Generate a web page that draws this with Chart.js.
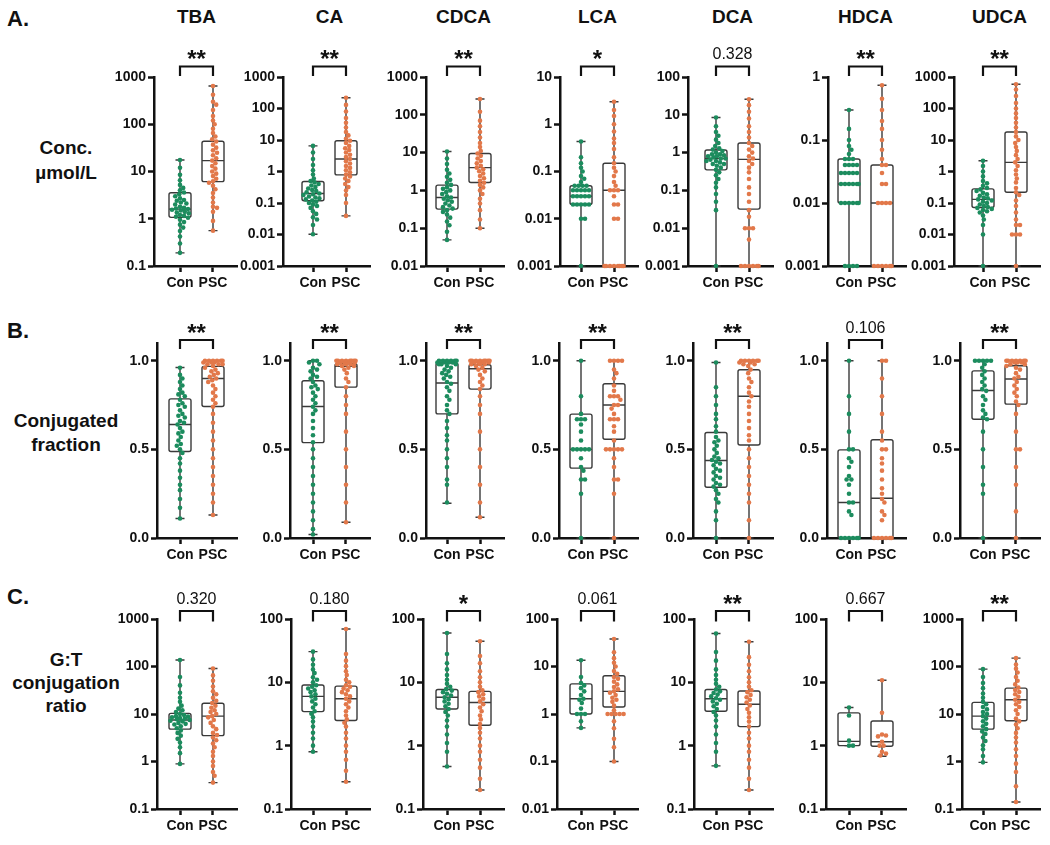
<!DOCTYPE html>
<html>
<head>
<meta charset="utf-8">
<script src="https://cdn.jsdelivr.net/npm/chart.js@4.4.0/dist/chart.umd.min.js"></script>
<style>
  body { margin: 0; background: #fff; font-family: "Liberation Sans", Arial, sans-serif; }
  #fig { position: relative; width: 1050px; height: 845px; overflow: hidden; }
  #fig canvas { position: absolute; }
  .lbl { position: absolute; font-weight: bold; color: #111; white-space: nowrap; text-align: center; }
</style>
</head>
<body>
<div id="fig"></div>
<script>
// ---- data ----
const acids = ["TBA", "CA", "CDCA", "LCA", "DCA", "HDCA", "UDCA"];
const groupLabels = ["Con", "PSC"];
const groupColors = ["#1c8c5e", "#e2784a"];

const logTickValues = [0.001, 0.01, 0.1, 1, 10, 100, 1000];
const logTickLabels = ["0.001", "0.01", "0.1", "1", "10", "100", "1000"];
const fracTickValues = [0, 0.5, 1];
const fracTickLabels = ["0.0", "0.5", "1.0"];

// A. concentration (umol/L), box = [min, q1, median, q3, max]
const concMin = [0.1, 0.001, 0.01, 0.001, 0.001, 0.001, 0.001];
const concMax = [1000, 1000, 1000, 10, 100, 1, 1000];
const concSig = ["**", "**", "**", "*", "0.328", "**", "**"];
const concConBox = [
  [0.19, 1.07, 1.6, 3.56, 17.5],
  [0.0102, 0.118, 0.2, 0.48, 6.5],
  [0.049, 0.32, 0.65, 1.38, 10.7],
  [0.001, 0.02, 0.03, 0.05, 0.43],
  [0.001, 0.35, 0.7, 1.17, 8.5],
  [0.001, 0.01, 0.02, 0.05, 0.3],
  [0.001, 0.072, 0.13, 0.28, 2.2]
];
const concPscBox = [
  [0.56, 6.1, 17, 43.6, 645],
  [0.039, 0.78, 2.5, 9.5, 220],
  [0.1, 1.62, 4, 9.5, 263],
  [0.001, 0.001, 0.04, 0.15, 3.0],
  [0.001, 0.032, 0.66, 1.8, 25.7],
  [0.001, 0.001, 0.01, 0.04, 0.74],
  [0.001, 0.22, 1.95, 18, 590]
];
const concConPts = [
  [0.19, 0.3, 0.42, 0.55, 0.65, 0.75, 0.85, 0.95, 1.05, 1.1, 1.15, 1.2, 1.3, 1.35, 1.4, 1.5, 1.55, 1.6, 1.65, 1.7, 1.8, 2.0, 2.1, 2.2, 2.4, 2.5, 2.7, 3.0, 3.3, 3.6, 4.0, 4.5, 5.2, 6.5, 8.5, 12, 17.5],
  [0.0102, 0.02, 0.03, 0.035, 0.045, 0.055, 0.07, 0.08, 0.09, 0.1, 0.11, 0.12, 0.13, 0.14, 0.15, 0.16, 0.18, 0.19, 0.2, 0.22, 0.24, 0.26, 0.29, 0.32, 0.36, 0.4, 0.45, 0.5, 0.6, 0.8, 1.1, 1.6, 2.5, 4, 6.5],
  [0.049, 0.08, 0.12, 0.15, 0.19, 0.23, 0.27, 0.3, 0.33, 0.36, 0.4, 0.45, 0.5, 0.55, 0.6, 0.65, 0.7, 0.8, 0.9, 1.0, 1.1, 1.2, 1.4, 1.6, 1.9, 2.3, 2.8, 3.5, 5, 7, 10.7],
  [0.001, 0.01, 0.01, 0.02, 0.02, 0.02, 0.02, 0.02, 0.03, 0.03, 0.03, 0.03, 0.03, 0.04, 0.04, 0.04, 0.04, 0.04, 0.05, 0.05, 0.05, 0.05, 0.06, 0.07, 0.08, 0.1, 0.12, 0.15, 0.2, 0.43],
  [0.001, 0.03, 0.05, 0.08, 0.12, 0.16, 0.2, 0.25, 0.3, 0.35, 0.4, 0.45, 0.5, 0.5, 0.55, 0.6, 0.6, 0.65, 0.7, 0.7, 0.75, 0.8, 0.8, 0.85, 0.9, 0.9, 1.0, 1.1, 1.2, 1.3, 1.5, 1.8, 2.2, 2.8, 3.5, 5, 8.5],
  [0.001, 0.001, 0.001, 0.001, 0.01, 0.01, 0.01, 0.01, 0.01, 0.01, 0.02, 0.02, 0.02, 0.02, 0.02, 0.02, 0.03, 0.03, 0.03, 0.03, 0.03, 0.04, 0.04, 0.04, 0.04, 0.05, 0.05, 0.05, 0.06, 0.07, 0.08, 0.1, 0.15, 0.3],
  [0.001, 0.01, 0.02, 0.03, 0.04, 0.05, 0.055, 0.06, 0.065, 0.07, 0.075, 0.08, 0.09, 0.1, 0.11, 0.12, 0.13, 0.14, 0.15, 0.17, 0.19, 0.21, 0.24, 0.27, 0.3, 0.35, 0.42, 0.5, 0.7, 1.0, 1.5, 2.2]
];
const concPscPts = [
  [0.56, 0.9, 1.4, 1.7, 1.8, 2.2, 2.8, 3.5, 4.2, 5.0, 5.8, 6.2, 7, 8, 9, 10, 11.5, 13, 15, 17, 19, 22, 25, 28, 32, 37, 43, 48, 55, 65, 80, 100, 120, 150, 200, 260, 300, 420, 645],
  [0.039, 0.1, 0.18, 0.25, 0.32, 0.4, 0.5, 0.6, 0.7, 0.8, 0.95, 1.1, 1.3, 1.5, 1.8, 2.1, 2.5, 2.9, 3.4, 4, 4.8, 5.5, 6.5, 8, 9.5, 11, 14, 18, 25, 35, 50, 80, 130, 220],
  [0.1, 0.17, 0.3, 0.45, 0.6, 0.8, 1.0, 1.2, 1.4, 1.6, 1.8, 2.1, 2.4, 2.8, 3.2, 3.6, 4, 4.5, 5.2, 6, 7, 8.2, 9.5, 11, 14, 18, 25, 35, 50, 70, 120, 263],
  [0.001, 0.001, 0.001, 0.001, 0.001, 0.001, 0.001, 0.001, 0.01, 0.01, 0.02, 0.02, 0.03, 0.04, 0.04, 0.04, 0.05, 0.06, 0.08, 0.1, 0.12, 0.15, 0.2, 0.3, 0.4, 0.5, 0.7, 1, 1.5, 2, 3.0],
  [0.001, 0.001, 0.001, 0.001, 0.001, 0.001, 0.005, 0.01, 0.01, 0.01, 0.02, 0.03, 0.05, 0.08, 0.12, 0.2, 0.3, 0.4, 0.5, 0.6, 0.7, 0.8, 1.0, 1.2, 1.5, 1.8, 2.5, 3.5, 5, 8, 12, 18, 25.7],
  [0.001, 0.001, 0.001, 0.001, 0.001, 0.001, 0.01, 0.01, 0.01, 0.01, 0.02, 0.02, 0.03, 0.04, 0.04, 0.05, 0.07, 0.1, 0.15, 0.2, 0.3, 0.45, 0.74],
  [0.001, 0.01, 0.01, 0.01, 0.02, 0.02, 0.03, 0.05, 0.08, 0.12, 0.18, 0.22, 0.3, 0.45, 0.6, 0.8, 1.1, 1.5, 1.95, 2.5, 3.3, 4.5, 6, 8, 10, 13, 18, 25, 35, 50, 70, 100, 150, 250, 400, 590]
];

// B. conjugated fraction
const fracMin = [0, 0, 0, 0, 0, 0, 0];
const fracMax = [1.1, 1.1, 1.1, 1.1, 1.1, 1.1, 1.1];
const fracSig = ["**", "**", "**", "**", "**", "0.106", "**"];
const fracConBox = [
  [0.11, 0.488, 0.64, 0.785, 0.962],
  [0.02, 0.538, 0.742, 0.887, 1.0],
  [0.196, 0.70, 0.874, 0.987, 1.0],
  [0, 0.394, 0.5, 0.699, 1.0],
  [0, 0.286, 0.437, 0.595, 0.99],
  [0, 0, 0.2, 0.497, 1.0],
  [0, 0.67, 0.832, 0.943, 1.0]
];
const fracPscBox = [
  [0.13, 0.742, 0.9, 0.968, 1.0],
  [0.089, 0.851, 0.968, 0.983, 1.0],
  [0.117, 0.84, 0.955, 0.977, 1.0],
  [0, 0.557, 0.75, 0.87, 1.0],
  [0, 0.525, 0.80, 0.949, 1.0],
  [0, 0, 0.224, 0.554, 1.0],
  [0, 0.755, 0.897, 0.972, 1.0]
];
const fracConPts = [
  [0.11, 0.17, 0.22, 0.27, 0.3, 0.34, 0.38, 0.42, 0.45, 0.48, 0.5, 0.52, 0.53, 0.55, 0.57, 0.59, 0.6, 0.62, 0.64, 0.65, 0.66, 0.68, 0.69, 0.7, 0.72, 0.74, 0.75, 0.76, 0.78, 0.8, 0.81, 0.82, 0.84, 0.86, 0.88, 0.9, 0.92, 0.96],
  [0.02, 0.05, 0.1, 0.15, 0.2, 0.25, 0.3, 0.35, 0.4, 0.45, 0.5, 0.54, 0.58, 0.62, 0.66, 0.7, 0.72, 0.74, 0.76, 0.78, 0.8, 0.82, 0.84, 0.85, 0.86, 0.88, 0.9, 0.91, 0.92, 0.94, 0.95, 0.96, 0.98, 0.99, 1.0, 1.0],
  [0.2, 0.3, 0.33, 0.4, 0.45, 0.5, 0.55, 0.58, 0.62, 0.66, 0.7, 0.72, 0.75, 0.78, 0.8, 0.83, 0.85, 0.87, 0.88, 0.9, 0.91, 0.92, 0.93, 0.94, 0.95, 0.96, 0.97, 0.98, 0.98, 0.98, 0.99, 0.99, 0.99, 0.99, 1.0, 1.0, 1.0, 1.0, 1.0, 1.0],
  [0, 0.25, 0.33, 0.33, 0.38, 0.4, 0.45, 0.5, 0.5, 0.5, 0.5, 0.5, 0.55, 0.6, 0.64, 0.67, 0.67, 0.67, 0.7, 0.8, 1.0],
  [0, 0.1, 0.15, 0.2, 0.22, 0.25, 0.27, 0.29, 0.3, 0.31, 0.33, 0.34, 0.35, 0.37, 0.38, 0.39, 0.41, 0.42, 0.43, 0.44, 0.45, 0.46, 0.48, 0.5, 0.52, 0.54, 0.55, 0.57, 0.6, 0.63, 0.67, 0.7, 0.75, 0.8, 0.85, 0.99],
  [0, 0, 0, 0, 0, 0, 0.13, 0.15, 0.2, 0.2, 0.25, 0.3, 0.33, 0.33, 0.35, 0.4, 0.43, 0.45, 0.5, 0.5, 0.6, 0.7, 0.8, 1.0],
  [0, 0.25, 0.3, 0.4, 0.5, 0.6, 0.67, 0.68, 0.7, 0.72, 0.75, 0.78, 0.8, 0.83, 0.84, 0.86, 0.88, 0.9, 0.92, 0.94, 0.96, 0.98, 1.0, 1.0, 1.0, 1.0, 1.0]
];
const fracPscPts = [
  [0.13, 0.2, 0.25, 0.3, 0.35, 0.4, 0.45, 0.5, 0.55, 0.6, 0.65, 0.7, 0.74, 0.76, 0.78, 0.8, 0.82, 0.84, 0.86, 0.88, 0.89, 0.9, 0.91, 0.92, 0.93, 0.94, 0.95, 0.96, 0.97, 0.98, 0.98, 0.98, 0.99, 0.99, 0.99, 1.0, 1.0, 1.0, 1.0, 1.0, 1.0],
  [0.089, 0.2, 0.3, 0.4, 0.5, 0.6, 0.7, 0.75, 0.8, 0.85, 0.88, 0.9, 0.93, 0.95, 0.96, 0.97, 0.97, 0.98, 0.98, 0.98, 0.99, 0.99, 0.99, 0.99, 1.0, 1.0, 1.0, 1.0, 1.0, 1.0, 1.0, 1.0],
  [0.117, 0.2, 0.3, 0.4, 0.5, 0.6, 0.7, 0.75, 0.8, 0.84, 0.86, 0.88, 0.9, 0.92, 0.94, 0.95, 0.96, 0.97, 0.98, 0.98, 0.98, 0.99, 0.99, 0.99, 0.99, 1.0, 1.0, 1.0, 1.0, 1.0, 1.0, 1.0, 1.0],
  [0, 0.25, 0.33, 0.33, 0.4, 0.45, 0.5, 0.5, 0.5, 0.5, 0.5, 0.55, 0.6, 0.63, 0.67, 0.67, 0.67, 0.7, 0.73, 0.75, 0.75, 0.78, 0.8, 0.8, 0.8, 0.83, 0.86, 0.9, 0.93, 0.95, 1.0, 1.0, 1.0, 1.0],
  [0, 0.1, 0.2, 0.25, 0.3, 0.35, 0.4, 0.45, 0.5, 0.55, 0.58, 0.62, 0.66, 0.7, 0.74, 0.77, 0.8, 0.82, 0.85, 0.88, 0.9, 0.93, 0.95, 0.97, 0.98, 0.98, 0.99, 0.99, 1.0, 1.0, 1.0, 1.0, 1.0, 1.0],
  [0, 0, 0, 0, 0, 0, 0.1, 0.13, 0.15, 0.2, 0.22, 0.25, 0.28, 0.33, 0.38, 0.42, 0.45, 0.5, 0.5, 0.55, 0.6, 0.7, 0.8, 0.9, 1.0, 1.0],
  [0, 0.15, 0.3, 0.4, 0.5, 0.5, 0.6, 0.7, 0.75, 0.77, 0.8, 0.82, 0.84, 0.86, 0.88, 0.9, 0.91, 0.93, 0.95, 0.96, 0.97, 0.98, 0.98, 0.99, 0.99, 0.99, 1.0, 1.0, 1.0, 1.0, 1.0, 1.0, 1.0]
];

// C. G:T conjugation ratio
const ratioMin = [0.1, 0.1, 0.1, 0.01, 0.1, 0.1, 0.1];
const ratioMax = [1000, 100, 100, 100, 100, 100, 1000];
const ratioSig = ["0.320", "0.180", "*", "0.061", "**", "0.667", "**"];
const ratioConBox = [
  [0.89, 4.8, 7.5, 10.3, 137],
  [0.8, 3.45, 6, 9.1, 30.5],
  [0.47, 3.8, 5.8, 7.7, 60],
  [0.51, 1.0, 2.1, 4.3, 13.5],
  [0.48, 3.5, 5.5, 7.7, 59],
  [1.0, 1.0, 1.17, 3.3, 4.0],
  [0.96, 4.8, 9, 17.6, 88]
];
const ratioPscBox = [
  [0.36, 3.5, 9, 16.8, 91],
  [0.27, 2.5, 5.5, 8.7, 69.5],
  [0.2, 2.1, 4.8, 7.2, 44.6],
  [0.1, 1.4, 3.0, 6.4, 38],
  [0.2, 2.0, 4.5, 7.3, 43.7],
  [0.68, 0.98, 1.15, 2.45, 10.8],
  [0.14, 7.2, 20, 35, 150]
];
const ratioConPts = [
  [0.89, 1.5, 2, 2.5, 3, 3.5, 4, 4.5, 5, 5.5, 6, 6.2, 6.5, 7, 7.2, 7.5, 7.8, 8, 8.2, 8.5, 8.8, 9, 9.5, 10, 11, 12, 13, 15, 18, 22, 28, 40, 60, 137],
  [0.8, 1.0, 1.3, 1.6, 2, 2.4, 2.8, 3.2, 3.5, 4, 4.5, 5, 5.5, 6, 6.5, 7, 7.5, 8, 8.5, 9, 10, 11, 12, 14, 16, 19, 23, 30.5],
  [0.47, 0.8, 1.1, 1.5, 2, 2.5, 3, 3.4, 3.8, 4.2, 4.6, 5, 5.4, 5.8, 6.2, 6.6, 7, 7.4, 7.8, 8.5, 9.5, 11, 13, 16, 20, 28, 60],
  [0.51, 0.7, 1.0, 1.0, 1.0, 1.3, 1.7, 2, 2.1, 2.5, 3, 3.5, 4, 4.5, 6, 13.5],
  [0.48, 0.8, 1.1, 1.5, 2, 2.5, 3, 3.4, 3.8, 4.2, 4.6, 5, 5.3, 5.6, 6, 6.4, 6.8, 7.2, 7.7, 8.5, 9.5, 11, 13, 16, 22, 30, 59],
  [1.0, 1.0, 1.2, 3.0, 4.0],
  [0.96, 1.3, 1.8, 2.2, 2.7, 3.2, 3.8, 4.3, 4.8, 5.5, 6.2, 7, 8, 9, 10, 11, 12.5, 14, 16, 18, 22, 27, 35, 45, 60, 88]
];
const ratioPscPts = [
  [0.36, 0.5, 0.6, 0.8, 1.0, 1.3, 1.6, 2, 2.4, 2.8, 3.2, 3.6, 4, 4.8, 5.5, 6.5, 7.5, 8.5, 9, 10, 11, 12, 13.5, 15, 17, 19, 22, 26, 30, 38, 50, 65, 91],
  [0.27, 0.4, 0.6, 0.8, 1, 1.3, 1.6, 2, 2.3, 2.6, 3, 3.5, 4, 4.5, 5, 5.5, 6, 6.5, 7, 7.5, 8, 8.5, 9, 10, 11, 13, 15, 18, 22, 28, 69.5],
  [0.2, 0.3, 0.45, 0.6, 0.8, 1, 1.3, 1.6, 1.9, 2.2, 2.6, 3, 3.5, 4, 4.5, 5, 5.5, 6, 6.5, 7, 7.5, 8.5, 10, 12, 15, 20, 26, 44.6],
  [0.1, 0.2, 0.3, 0.5, 0.7, 1.0, 1.0, 1.0, 1.0, 1.0, 1.2, 1.5, 1.8, 2, 2.2, 2.5, 2.8, 3, 3.3, 3.7, 4.2, 4.8, 5.5, 6, 7, 8, 10, 12, 15, 20, 38],
  [0.2, 0.3, 0.45, 0.6, 0.8, 1, 1.3, 1.6, 2, 2.4, 2.8, 3.3, 3.8, 4.3, 4.8, 5.3, 5.8, 6.3, 7, 7.5, 8.5, 10, 12, 15, 19, 25, 43.7],
  [0.7, 0.75, 0.8, 1.0, 1.0, 1.15, 1.4, 1.45, 1.5, 3.3, 10.8],
  [0.14, 0.3, 0.6, 0.9, 1.3, 1.8, 2.5, 3.2, 4, 5, 6, 7, 8, 10, 12, 14, 16, 18, 20, 23, 26, 29, 32, 36, 42, 50, 60, 75, 90, 110, 150]
];

// ---- layout ----
const FONT = '"Liberation Sans", Arial, sans-serif';
const Y_W = 56, X_H = 30, PAD_T = 42, PX_UNIT = 33, BOX_HALF = 11, CAP_HALF = 4.5;
const conCenters = [180, 313, 447, 581, 716, 849, 983];
const axisGap = [
  [26, 30, 21, 21, 28, 21, 29],
  [23, 23, 21, 22, 23, 22, 23],
  [23, 22, 24, 24, 22, 23, 21]
];
const rowTop = [77, 343, 619];
const rowBottom = [266, 538, 809];
// bracket / label offsets from the plot top, per row
const bracketOff = [-10.5, -3, -8];
const legOff = [-1, 6, 2.5];
const labelOff = [-24.5, -16, -21.5];

const rows = [
  { log: true, min: concMin, max: concMax, sig: concSig, box: [concConBox, concPscBox], pts: [concConPts, concPscPts], tv: logTickValues, tl: logTickLabels },
  { log: false, min: fracMin, max: fracMax, sig: fracSig, box: [fracConBox, fracPscBox], pts: [fracConPts, fracPscPts], tv: fracTickValues, tl: fracTickLabels },
  { log: true, min: ratioMin, max: ratioMax, sig: ratioSig, box: [ratioConBox, ratioPscBox], pts: [ratioConPts, ratioPscPts], tv: logTickValues, tl: logTickLabels }
];

Chart.defaults.font.family = FONT;
const fig = document.getElementById("fig");

function addLabel(text, left, top, size, width, lineH) {
  const d = document.createElement("div");
  d.className = "lbl";
  d.style.left = left + "px";
  d.style.top = top + "px";
  d.style.fontSize = size + "px";
  if (width) d.style.width = width + "px";
  if (lineH) d.style.lineHeight = lineH + "px";
  d.innerHTML = text;
  fig.appendChild(d);
}

// panel letters, row titles and column titles
addLabel("A.", 7, 6, 22);
addLabel("B.", 7, 318, 22);
addLabel("C.", 7, 584, 22);
addLabel("Conc.<br>µmol/L", 1, 135, 19, 130, 25);
addLabel("Conjugated<br>fraction", 1, 409, 19, 130, 24);
addLabel("G:T<br>conjugation<br>ratio", 1, 648, 19, 130, 23);
acids.forEach((a, i) => addLabel(a, conCenters[i] + 16.5 - 40, 6, 19, 80));

const boxPlugin = {
  id: "boxes",
  beforeDatasetsDraw(chart) {
    const { ctx, scales: { x, y } } = chart;
    const o = chart.options.plugins.boxes;
    ctx.save();
    ctx.strokeStyle = "#3a3a3a";
    ctx.lineWidth = 1.4;
    o.stats.forEach((s, g) => {
      const px = x.getPixelForValue(g + 1);
      const [mn, q1, md, q3, mx] = s.map(v => y.getPixelForValue(v));
      ctx.beginPath();
      ctx.moveTo(px, mx); ctx.lineTo(px, q3);
      ctx.moveTo(px, q1); ctx.lineTo(px, mn);
      ctx.moveTo(px - CAP_HALF, mx); ctx.lineTo(px + CAP_HALF, mx);
      ctx.moveTo(px - CAP_HALF, mn); ctx.lineTo(px + CAP_HALF, mn);
      ctx.stroke();
      ctx.beginPath();
      ctx.roundRect(px - BOX_HALF, q3, BOX_HALF * 2, q1 - q3, 2);
      ctx.moveTo(px - BOX_HALF, md); ctx.lineTo(px + BOX_HALF, md);
      ctx.stroke();
    });
    ctx.restore();
  },
  afterDraw(chart) {
    const { ctx, chartArea, scales: { x } } = chart;
    const o = chart.options.plugins.boxes;
    const x1 = x.getPixelForValue(1), x2 = x.getPixelForValue(2);
    const by = chartArea.top + bracketOff[o.row], ly = chartArea.top + legOff[o.row];
    ctx.save();
    ctx.strokeStyle = "#111";
    ctx.lineWidth = 2.2;
    ctx.beginPath();
    ctx.moveTo(x1, ly); ctx.lineTo(x1, by); ctx.lineTo(x2, by); ctx.lineTo(x2, ly);
    ctx.stroke();
    ctx.fillStyle = "#111";
    ctx.textAlign = "center";
    ctx.textBaseline = "alphabetic";
    const cy = chartArea.top + labelOff[o.row];
    if (/^\*+$/.test(o.sig)) {
      ctx.font = "bold 24px " + FONT;
      ctx.fillText(o.sig, (x1 + x2) / 2, cy + 14);
    } else {
      ctx.font = "16px " + FONT;
      ctx.fillText(o.sig, (x1 + x2) / 2, cy + 6);
    }
    ctx.restore();
  }
};

// simple beeswarm: spread points sideways in pixel space, kept inside the box width
const MIN_D = 4, MAX_OFF = 10;
function swarm(chart) {
  const xs = chart.scales.x, ys = chart.scales.y;
  chart.data.datasets.forEach((ds, g) => {
    const cx = xs.getPixelForValue(g + 1);
    const items = ds.data.map(p => ({ p, py: ys.getPixelForValue(p.y) })).sort((a, b) => a.py - b.py);
    const placed = [];
    items.forEach(it => {
      let off = 0, bestD = -1, found = false;
      for (let k = 0; ; k++) {
        const o = (k % 2 ? 1 : -1) * Math.ceil(k / 2) * 0.8;
        if (Math.abs(o) > MAX_OFF) break;
        const d = placed.reduce((m, q) => Math.min(m, Math.hypot(q.x - o, q.y - it.py)), Infinity);
        if (d >= MIN_D) { off = o; found = true; break; }
        if (d > bestD) { bestD = d; off = o; }
      }
      placed.push({ x: off, y: it.py });
      it.p.x = xs.getValueForPixel(cx + off);
    });
  });
  chart.update("none");
}

function makePanel(r, c) {
  const cfg = rows[r];
  const gap = axisGap[r][c];
  const xMin = 1 - gap / PX_UNIT, xMax = 2 + 24 / PX_UNIT;
  const chartW = (xMax - xMin) * PX_UNIT;
  const chartH = rowBottom[r] - rowTop[r];
  const w = Math.ceil(Y_W + chartW + 12);
  const h = PAD_T + chartH + X_H;
  const canvas = document.createElement("canvas");
  canvas.width = w; canvas.height = h;
  canvas.style.width = w + "px"; canvas.style.height = h + "px";
  canvas.style.left = (conCenters[c] - gap - Y_W) + "px";
  canvas.style.top = (rowTop[r] - PAD_T) + "px";
  fig.appendChild(canvas);

  const yMin = cfg.min[c], yMax = cfg.max[c];
  const tickFont = { family: FONT, size: 14, weight: "bold" };

  const chart = new Chart(canvas, {
    type: "scatter",
    data: {
      datasets: [0, 1].map(g => ({
        label: groupLabels[g],
        data: cfg.pts[g][c].map(v => ({ x: g + 1, y: v })),
        backgroundColor: groupColors[g],
        pointRadius: 2.3,
        pointBorderWidth: 0,
        clip: false
      }))
    },
    options: {
      responsive: false,
      animation: false,
      devicePixelRatio: 1,
      events: [],
      layout: { padding: { left: 0, right: w - Y_W - chartW, top: PAD_T, bottom: 0 } },
      plugins: {
        legend: { display: false },
        tooltip: { enabled: false },
        boxes: { stats: [cfg.box[0][c], cfg.box[1][c]], sig: cfg.sig[c], row: r }
      },
      scales: {
        x: {
          type: "linear",
          min: xMin, max: xMax,
          afterBuildTicks: s => { s.ticks = [{ value: 1 }, { value: 2 }]; },
          afterFit: s => { s.height = X_H; },
          ticks: { callback: (v, i) => groupLabels[i], font: tickFont, color: "#111", padding: 3, autoSkip: false, maxRotation: 0 },
          grid: { drawOnChartArea: false, drawTicks: true, tickLength: 6, tickWidth: 2.5, tickColor: "#111" },
          border: { display: true, width: 2.5, color: "#111" }
        },
        y: {
          type: cfg.log ? "logarithmic" : "linear",
          min: yMin, max: yMax,
          afterBuildTicks: s => {
            s.ticks = cfg.tv.filter(v => v >= yMin * 0.999 && v <= yMax * 1.001).map(v => ({ value: v }));
          },
          afterFit: s => { s.width = Y_W; },
          ticks: { callback: v => cfg.tl[cfg.tv.indexOf(v)], font: tickFont, color: "#111", padding: 2, autoSkip: false },
          grid: { drawOnChartArea: false, drawTicks: true, tickLength: 6, tickWidth: 2.5, tickColor: "#111" },
          border: { display: true, width: 2.5, color: "#111" }
        }
      }
    },
    plugins: [boxPlugin]
  });
  swarm(chart);
}

for (let r = 0; r < 3; r++) {
  for (let c = 0; c < 7; c++) makePanel(r, c);
}
</script>
</body>
</html>
